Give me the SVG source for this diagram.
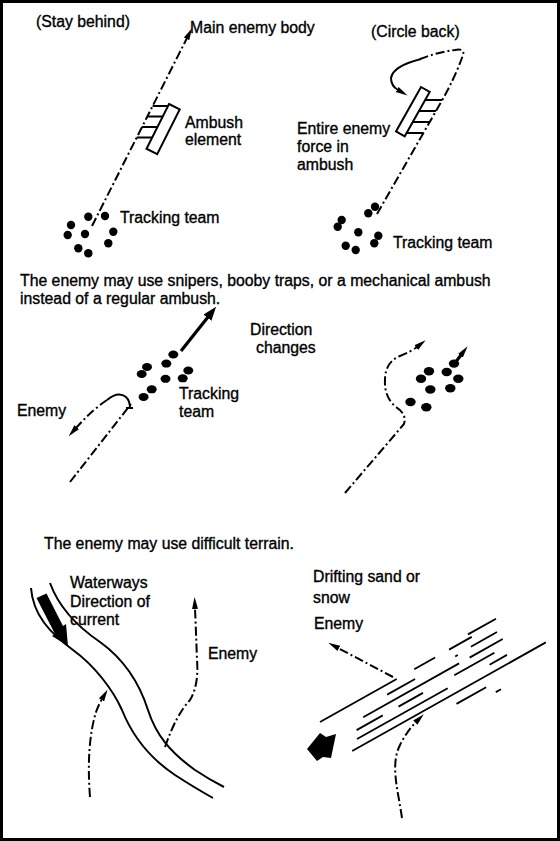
<svg xmlns="http://www.w3.org/2000/svg" width="560" height="841" viewBox="0 0 560 841">
<style>
text{font-family:"Liberation Sans",Arial,sans-serif;font-size:15.8px;fill:#000;stroke:#000;stroke-width:0.35}
.dd{fill:none;stroke:#000;stroke-width:2;stroke-dasharray:9 3 2 3}
.sl{fill:none;stroke:#000;stroke-width:2}
.th{fill:none;stroke:#000;stroke-width:3.2}
.dot{fill:#000}
.bk{fill:#000}
.drift{fill:none;stroke:#000;stroke-width:1.8}
</style>
<defs>
<marker id="ah" viewBox="0 0 12 8" refX="1" refY="4" markerWidth="12" markerHeight="8" markerUnits="userSpaceOnUse" orient="auto">
<path d="M0,1 L12,4 L0,7 Z" fill="#000"/>
</marker>
<marker id="ahb" viewBox="0 0 14 10" refX="1" refY="5" markerWidth="14" markerHeight="10" markerUnits="userSpaceOnUse" orient="auto">
<path d="M0,0 L14,5 L0,10 Z" fill="#000"/>
</marker>
</defs>
<rect x="1.5" y="1.5" width="557" height="838" fill="#fff" stroke="#000" stroke-width="3"/>

<g id="connectors">
<path class="dd" d="M92,226 L187,38" marker-end="url(#ah)"/>
<path class="dd" d="M377,214 L440,104 Q455,78 463,55 Q465,48 455,50 Q438,52 420,59"/>
<path class="sl" d="M421,59 Q393,66 391,78 Q391,86 398,90" marker-end="url(#ah)"/>
<path class="th" d="M181,351 L208,317" marker-end="url(#ahb)"/>
<path class="dd" d="M70,482 L131,404"/>
<path class="sl" d="M107,400 Q118,391 126,397 Q130,401 130,408 M126,408 L133,408"/>
<path class="dd" d="M107,400 Q92,410 76,428" marker-end="url(#ah)"/>
<path class="dd" d="M345,493 L404,424 Q407,414 396,407 Q384,397 385,380 Q385,362 400,356 Q412,351 417,347" marker-end="url(#ah)"/>
<path class="th" d="M455,363 L461,355" marker-end="url(#ah)"/>
<path class="dd" d="M90,797 Q86,745 96,712 Q99,704 102,699" marker-end="url(#ah)"/>
<path class="dd" d="M165,747 Q176,715 190,700 Q199,685 197,660 Q196,632 195,608" marker-end="url(#ah)"/>
<path class="dd" d="M393,677 L338,648" marker-end="url(#ah)"/>
<path class="dd" d="M402,818 C398,790 390,765 400,745 Q407,731 416,722" marker-end="url(#ah)"/>
</g>

<g id="stay-behind">
<text x="36" y="27">(Stay behind)</text>
<text x="190" y="33">Main enemy body</text>
<g id="ambush-element">
<polygon points="169,104 179.7,109.4 157.2,154.1 146.5,148.7" class="sl"/>
<path class="sl" d="M152.6,106 L168,106 M147.3,116.5 L162.7,116.5 M142,127 L157.4,127 M136.7,137.5 L152.1,137.5"/>
<text x="185" y="128">Ambush</text>
<text x="185" y="145">element</text>
</g>
<g id="tracking-team-1">
<circle class="dot" cx="88.3" cy="216.7" r="4.2"/>
<circle class="dot" cx="105" cy="216" r="4.2"/>
<circle class="dot" cx="71" cy="225" r="4.2"/>
<circle class="dot" cx="67.7" cy="235" r="4.2"/>
<circle class="dot" cx="85" cy="234" r="4.2"/>
<circle class="dot" cx="113.3" cy="231.7" r="4.2"/>
<circle class="dot" cx="108.3" cy="243.3" r="4.2"/>
<circle class="dot" cx="78.3" cy="248.3" r="4.2"/>
<circle class="dot" cx="88.3" cy="253.3" r="4.2"/>
<text x="120" y="223">Tracking team</text>
</g>
</g>

<g id="circle-back">
<text x="371" y="37">(Circle back)</text>
<g id="enemy-force">
<polygon points="421,87 429.7,91.9 404.7,136.3 396,131.4" class="sl"/>
<path class="sl" d="M425.1,100 L442,100 M419,111 L436,111 M412.8,122 L429.7,122 M406.6,133 L423.4,133"/>
<text x="297" y="134">Entire enemy</text>
<text x="297" y="152">force in</text>
<text x="297" y="170">ambush</text>
</g>
<g id="tracking-team-2">
<circle class="dot" cx="375" cy="206.7" r="4.2"/>
<circle class="dot" cx="368.3" cy="213.3" r="4.2"/>
<circle class="dot" cx="341.7" cy="220" r="4.2"/>
<circle class="dot" cx="337.7" cy="226.7" r="4.2"/>
<circle class="dot" cx="358.3" cy="232.3" r="4.2"/>
<circle class="dot" cx="378.3" cy="235.7" r="4.2"/>
<circle class="dot" cx="374.3" cy="243.3" r="4.2"/>
<circle class="dot" cx="345.7" cy="245.7" r="4.2"/>
<circle class="dot" cx="355.7" cy="250" r="4.2"/>
<text x="393" y="248">Tracking team</text>
</g>
</g>

<g id="snipers">
<text x="20" y="286">The enemy may use snipers, booby traps, or a mechanical ambush</text>
<text x="20" y="304">instead of a regular ambush.</text>
<text x="250" y="335">Direction</text>
<text x="256" y="353">changes</text>
<text x="17" y="416">Enemy</text>
<g id="tracking-team-3">
<ellipse class="dot" cx="173.3" cy="354.5" rx="5" ry="4"/>
<ellipse class="dot" cx="166.3" cy="363.6" rx="5" ry="4"/>
<ellipse class="dot" cx="147" cy="367" rx="5" ry="4"/>
<ellipse class="dot" cx="141.7" cy="374" rx="5" ry="4"/>
<ellipse class="dot" cx="188.3" cy="370.5" rx="5" ry="4"/>
<ellipse class="dot" cx="182.7" cy="378.3" rx="5" ry="4"/>
<ellipse class="dot" cx="165.5" cy="378.8" rx="5" ry="4"/>
<ellipse class="dot" cx="151.7" cy="389.3" rx="5" ry="4"/>
<ellipse class="dot" cx="143.6" cy="397" rx="5" ry="4"/>
<text x="179" y="399">Tracking</text>
<text x="179" y="417">team</text>
</g>
<g id="tracking-team-4">
<ellipse class="dot" cx="454" cy="363.6" rx="5.2" ry="4.2"/>
<ellipse class="dot" cx="429" cy="371.3" rx="5.2" ry="4.2"/>
<ellipse class="dot" cx="446.7" cy="372" rx="5.2" ry="4.2"/>
<ellipse class="dot" cx="421" cy="378.8" rx="5.2" ry="4.2"/>
<ellipse class="dot" cx="458.3" cy="378.8" rx="5.2" ry="4.2"/>
<ellipse class="dot" cx="430.3" cy="389.5" rx="5.2" ry="4.2"/>
<ellipse class="dot" cx="450.3" cy="388.3" rx="5.2" ry="4.2"/>
<ellipse class="dot" cx="410.5" cy="402" rx="5.2" ry="4.2"/>
<ellipse class="dot" cx="426.3" cy="407.2" rx="5.2" ry="4.2"/>
</g>
</g>

<g id="terrain">
<text x="44" y="549">The enemy may use difficult terrain.</text>
<g id="waterways">
<path class="sl" d="M31,588 C33,615 50,633 73,650 C95,666 113,690 122,710 C132,735 148,757 175,775 Q195,788 213,798"/>
<path class="sl" d="M50,583 C58,605 75,625 100,642 C125,660 140,685 148,710 C156,735 170,752 195,770 Q210,780 224,787"/>
<polygon class="bk" points="36.5,598 46.5,593.5 63,626 66,624 68,646 52,636 55,634"/>
<text x="70" y="588">Waterways</text>
<text x="70" y="607">Direction of</text>
<text x="70" y="625">current</text>
<text x="208" y="659">Enemy</text>
</g>
<g id="drifting">
<path class="drift" d="M320,722 L396.7,679 M414.2,669.2 L435.1,657.5 M449.1,649.6 L471.7,636.9 M468,634.4 L496,618.7
M387.2,694.6 L415.1,679 M455.2,656.5 L457.8,655 M470.9,646.7 L497,632
M363.2,717.2 L459.1,663.4 M469.6,657.6 L502.7,639
M356.6,730.1 L382.8,715.4 M398.5,706.6 L423,692.9 M454.3,675.3 L494.4,652.8
M357,739 L447.7,688.2 M489.6,664.7 L507,654.9
M352.2,751 L545.8,642.4
M456.5,703.9 L486.2,687.3 M495.8,692.1 L501,689.2"/>
<polygon class="bk" points="307,749 320,733 326,737 336,734 331,758 323,757 317,761"/>
<text x="313" y="582">Drifting sand or</text>
<text x="313" y="603">snow</text>
<text x="314" y="629">Enemy</text>
</g>
</g>
</svg>
